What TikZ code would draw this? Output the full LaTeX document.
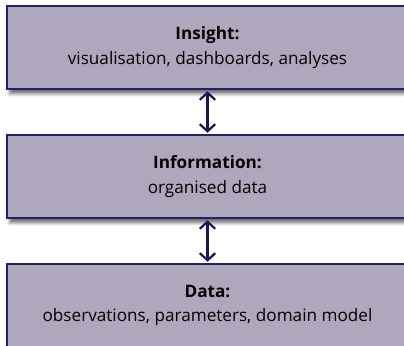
\documentclass[tikz,border=0pt]{standalone}
\usepackage{fontspec}
\setmainfont{Open Sans}
\usetikzlibrary{positioning,arrows.meta,shadows.blur}
\definecolor{layerfill}{HTML}{AFA7BB}
\definecolor{layerline}{HTML}{2A1F66}
\definecolor{linkblue}{HTML}{1E1558}

\begin{document}
\begin{tikzpicture}[
  x=0.025cm, y=0.025cm,
  layer/.style={rectangle, draw=layerline, line width=1.2pt, fill=layerfill,
                minimum width=10.025cm, minimum height=2.075cm, align=center,
                font=\fontsize{12.2}{17.5}\selectfont,
                blur shadow={shadow xshift=2pt, shadow yshift=-3.5pt,
                             shadow opacity=55, shadow blur steps=6}},
  link/.style={{Straight Barb[length=5pt,width=11pt]}-{Straight Barb[length=5pt,width=11pt]},
               line width=1.6pt, linkblue, shorten <=1pt, shorten >=1pt},
]
\useasboundingbox (0,0) rectangle (404,-346);

\node[layer] (insight) at (207.5,-47.5)
  {\textbf{Insight:}\\visualisation, dashboards, analyses};

\node[layer] (info) at (207.5,-176.5)
  {\textbf{Information:}\\organised data};

\node[layer] (data) at (207.5,-305.5)
  {\textbf{Data:}\\observations, parameters, domain model};

\draw[link] (insight) -- (info);
\draw[link] (info) -- (data);

\end{tikzpicture}
\end{document}
